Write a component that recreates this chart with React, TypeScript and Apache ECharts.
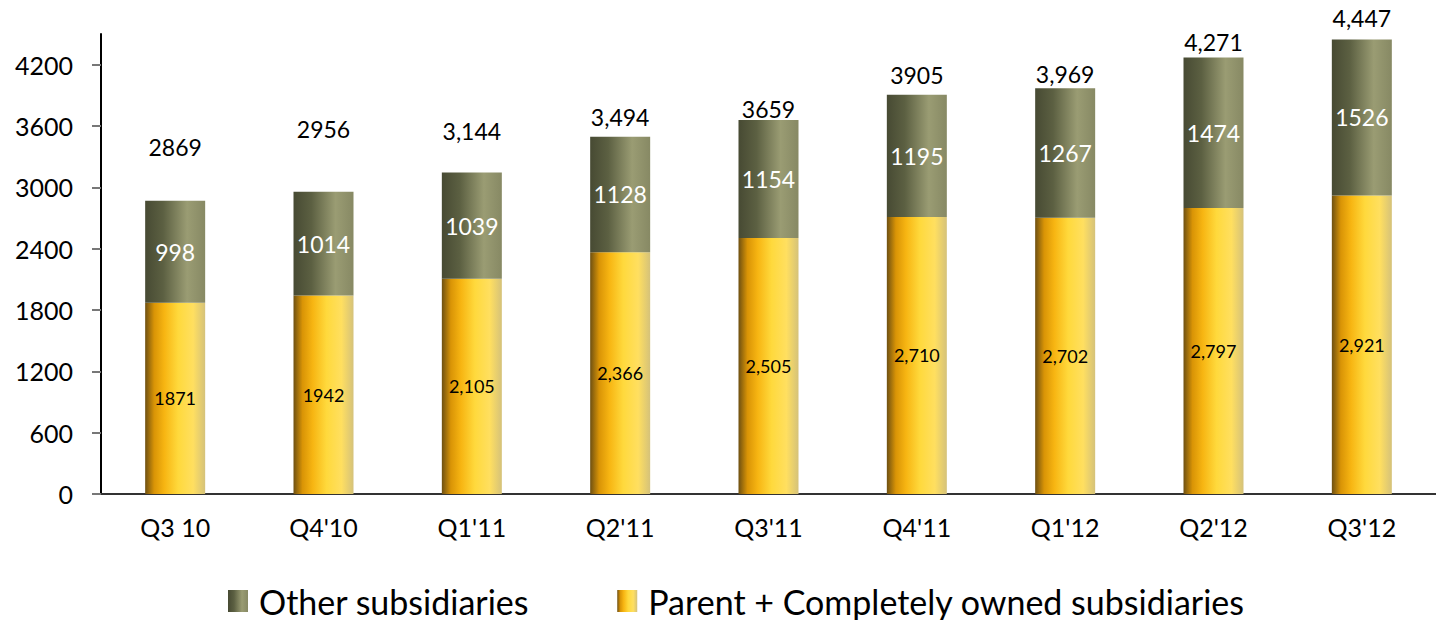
import React, { useEffect, useRef } from "react";
import * as echarts from "echarts";

const categories = ["Q3 10", "Q4'10", "Q1'11", "Q2'11", "Q3'11", "Q4'11", "Q1'12", "Q2'12", "Q3'12"];
const parentValues = [1871, 1942, 2105, 2366, 2505, 2710, 2702, 2797, 2921];
const otherValues = [998, 1014, 1039, 1128, 1154, 1195, 1267, 1474, 1526];
const parentLabels = ["1871", "1942", "2,105", "2,366", "2,505", "2,710", "2,702", "2,797", "2,921"];
const totalLabels = ["2869", "2956", "3,144", "3,494", "3659", "3905", "3,969", "4,271", "4,447"];
const yTicks = [0, 600, 1200, 1800, 2400, 3000, 3600, 4200];

// style: gap (px) between each bar top and its total label
const totalLabelGap = [42, 51, 30, 8, -1, 8, 3, 4, 10];

const FONT = "Lato, 'Liberation Sans', sans-serif";

const greenGrad = new echarts.graphic.LinearGradient(0, 0, 1, 0, [
  { offset: 0, color: "#474a33" },
  { offset: 0.3, color: "#5c6042" },
  { offset: 0.7, color: "#9a9c73" },
  { offset: 1, color: "#878964" },
]);
const yellowGrad = new echarts.graphic.LinearGradient(0, 0, 1, 0, [
  { offset: 0, color: "#6e5012" },
  { offset: 0.15, color: "#d99406" },
  { offset: 0.32, color: "#f7b512" },
  { offset: 0.55, color: "#ffd93c" },
  { offset: 0.8, color: "#ffdf60" },
  { offset: 1, color: "#d5c27a" },
]);

export default function App() {
  const ref = useRef<HTMLDivElement>(null);
  useEffect(() => {
    if (!ref.current) return;
    const chart = echarts.init(ref.current, null, { renderer: "svg" });
    chart.setOption({
      animation: false,
      textStyle: { fontFamily: FONT },
      grid: { left: 101, top: 34, width: 1346, height: 460 },
      legend: {
        left: 228,
        top: 584,
        padding: 0,
        itemWidth: 20,
        itemHeight: 22,
        itemGap: 88,
        textStyle: { fontSize: 34, lineHeight: 34, color: "#000", fontFamily: FONT, padding: [0, 0, 0, 6] },
        data: [
          { name: "Other subsidiaries", icon: "rect" },
          { name: "Parent + Completely owned subsidiaries", icon: "rect" },
        ],
      },
      xAxis: {
        type: "category",
        data: categories,
        axisLine: { lineStyle: { color: "#333", width: 2 } },
        axisTick: { length: 8, lineStyle: { color: "#777", width: 2 } },
        axisLabel: { fontSize: 25, color: "#000", margin: 20, fontFamily: FONT },
      },
      yAxis: {
        type: "value",
        min: 0,
        max: 4500,
        interval: 600,
        splitLine: { show: false },
        axisLine: { show: true, lineStyle: { color: "#000", width: 2 } },
        axisTick: { show: true, length: 9, customValues: yTicks, lineStyle: { color: "#777", width: 2 } },
        axisLabel: {
          fontSize: 25,
          color: "#000",
          margin: 28,
          customValues: yTicks,
          fontFamily: FONT,
          formatter: (v: number) => String(v),
        },
      },
      series: [
        {
          name: "Parent + Completely owned subsidiaries",
          type: "bar",
          stack: "total",
          barWidth: 60,
          itemStyle: { color: yellowGrad },
          label: {
            show: true,
            position: "inside",
            fontSize: 18,
            color: "#000",
            fontFamily: FONT,
            formatter: (p: any) => parentLabels[p.dataIndex],
          },
          data: parentValues,
        },
        {
          name: "Other subsidiaries",
          type: "bar",
          stack: "total",
          barWidth: 60,
          itemStyle: { color: greenGrad },
          label: {
            show: true,
            position: "inside",
            fontSize: 23,
            color: "#fff",
            fontFamily: FONT,
          },
          data: otherValues,
        },
        {
          name: "totals",
          type: "bar",
          stack: "total",
          barWidth: 60,
          itemStyle: { color: "transparent" },
          silent: true,
          data: otherValues.map((_, i) => ({
            value: 0,
            label: {
              show: true,
              position: "top",
              distance: totalLabelGap[i],
              fontSize: 23,
              color: "#000",
              fontFamily: FONT,
              formatter: totalLabels[i],
            },
          })),
        },
      ],
    });
    return () => chart.dispose();
  }, []);
  return (
    <div
      ref={ref}
      style={{ position: "fixed", left: 0, top: 0, width: 1436, height: 620, background: "#fff" }}
    />
  );
}
